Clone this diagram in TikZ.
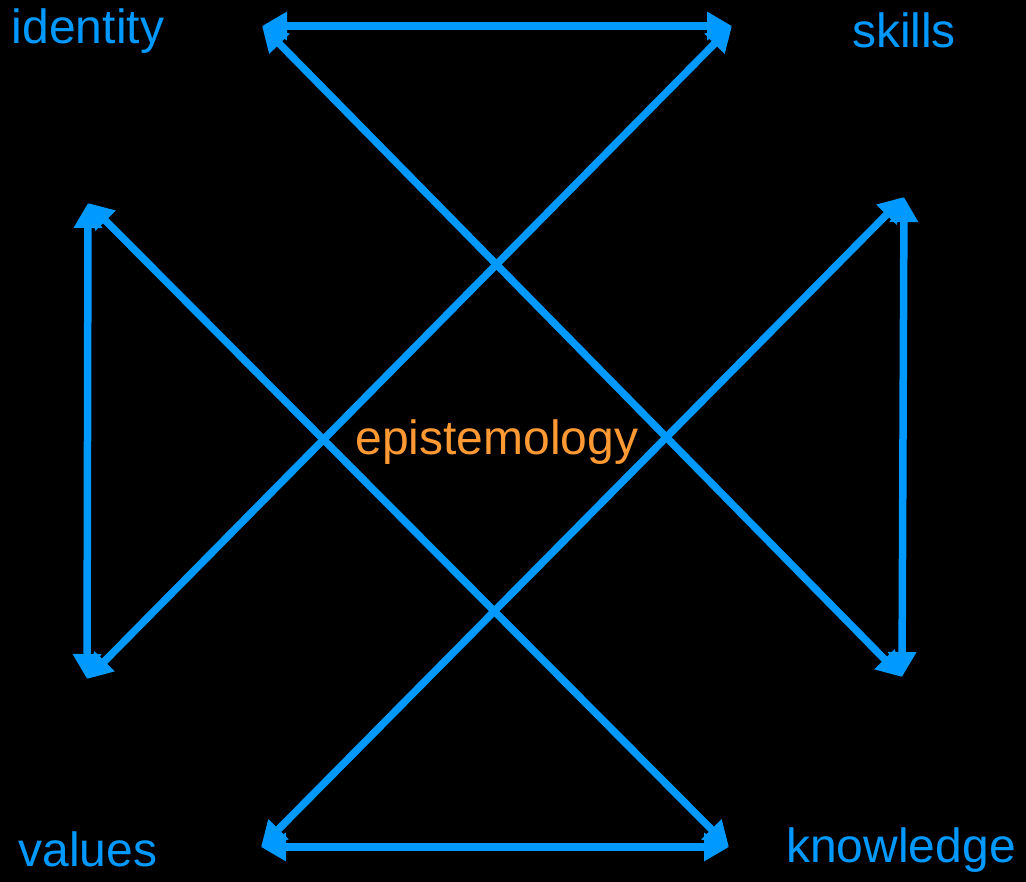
\documentclass[tikz,border=0pt]{standalone}
\usepackage{fontspec}
\setmainfont{Liberation Sans}
\usetikzlibrary{arrows.meta}
\definecolor{lineblue}{HTML}{0099FF}
\definecolor{textorange}{HTML}{FF9933}

\begin{document}
\begin{tikzpicture}[x=1pt, y=-1pt,
	link/.style = {lineblue, line width=7.5pt, {Triangle[length=25pt, width=27pt]}-{Triangle[length=25pt, width=27pt]}},
	word/.style = {lineblue, font=\fontsize{48}{56}\selectfont, inner sep=0pt}]
	\fill [black] (0,0) rectangle (1026,882);
	\useasboundingbox (0,0) rectangle (1026,882);

	\coordinate (tl) at (262,26);
	\coordinate (tr) at (732,26);
	\coordinate (lt) at (88,203);
	\coordinate (lb) at (87,679);
	\coordinate (rt) at (904,197);
	\coordinate (rb) at (902,677);
	\coordinate (bl) at (261,847);
	\coordinate (br) at (729,847);

	\draw [link] (tl) -- (tr);
	\draw [link] (tl) -- (rb);
	\draw [link] (tr) -- (lb);
	\draw [link] (lt) -- (lb);
	\draw [link] (lt) -- (br);
	\draw [link] (rt) -- (rb);
	\draw [link] (rt) -- (bl);
	\draw [link] (bl) -- (br);

	\node [word] (identity) at (88,31) {identity};
	\node [word] (skills) at (904,30) {skills};
	\node [word] (values) at (88,849) {values};
	\node [word] (knowledge) at (901,850) {knowledge};
	\node [word, textorange] (epist) at (497,442) {epistemology};
\end{tikzpicture}
\end{document}
